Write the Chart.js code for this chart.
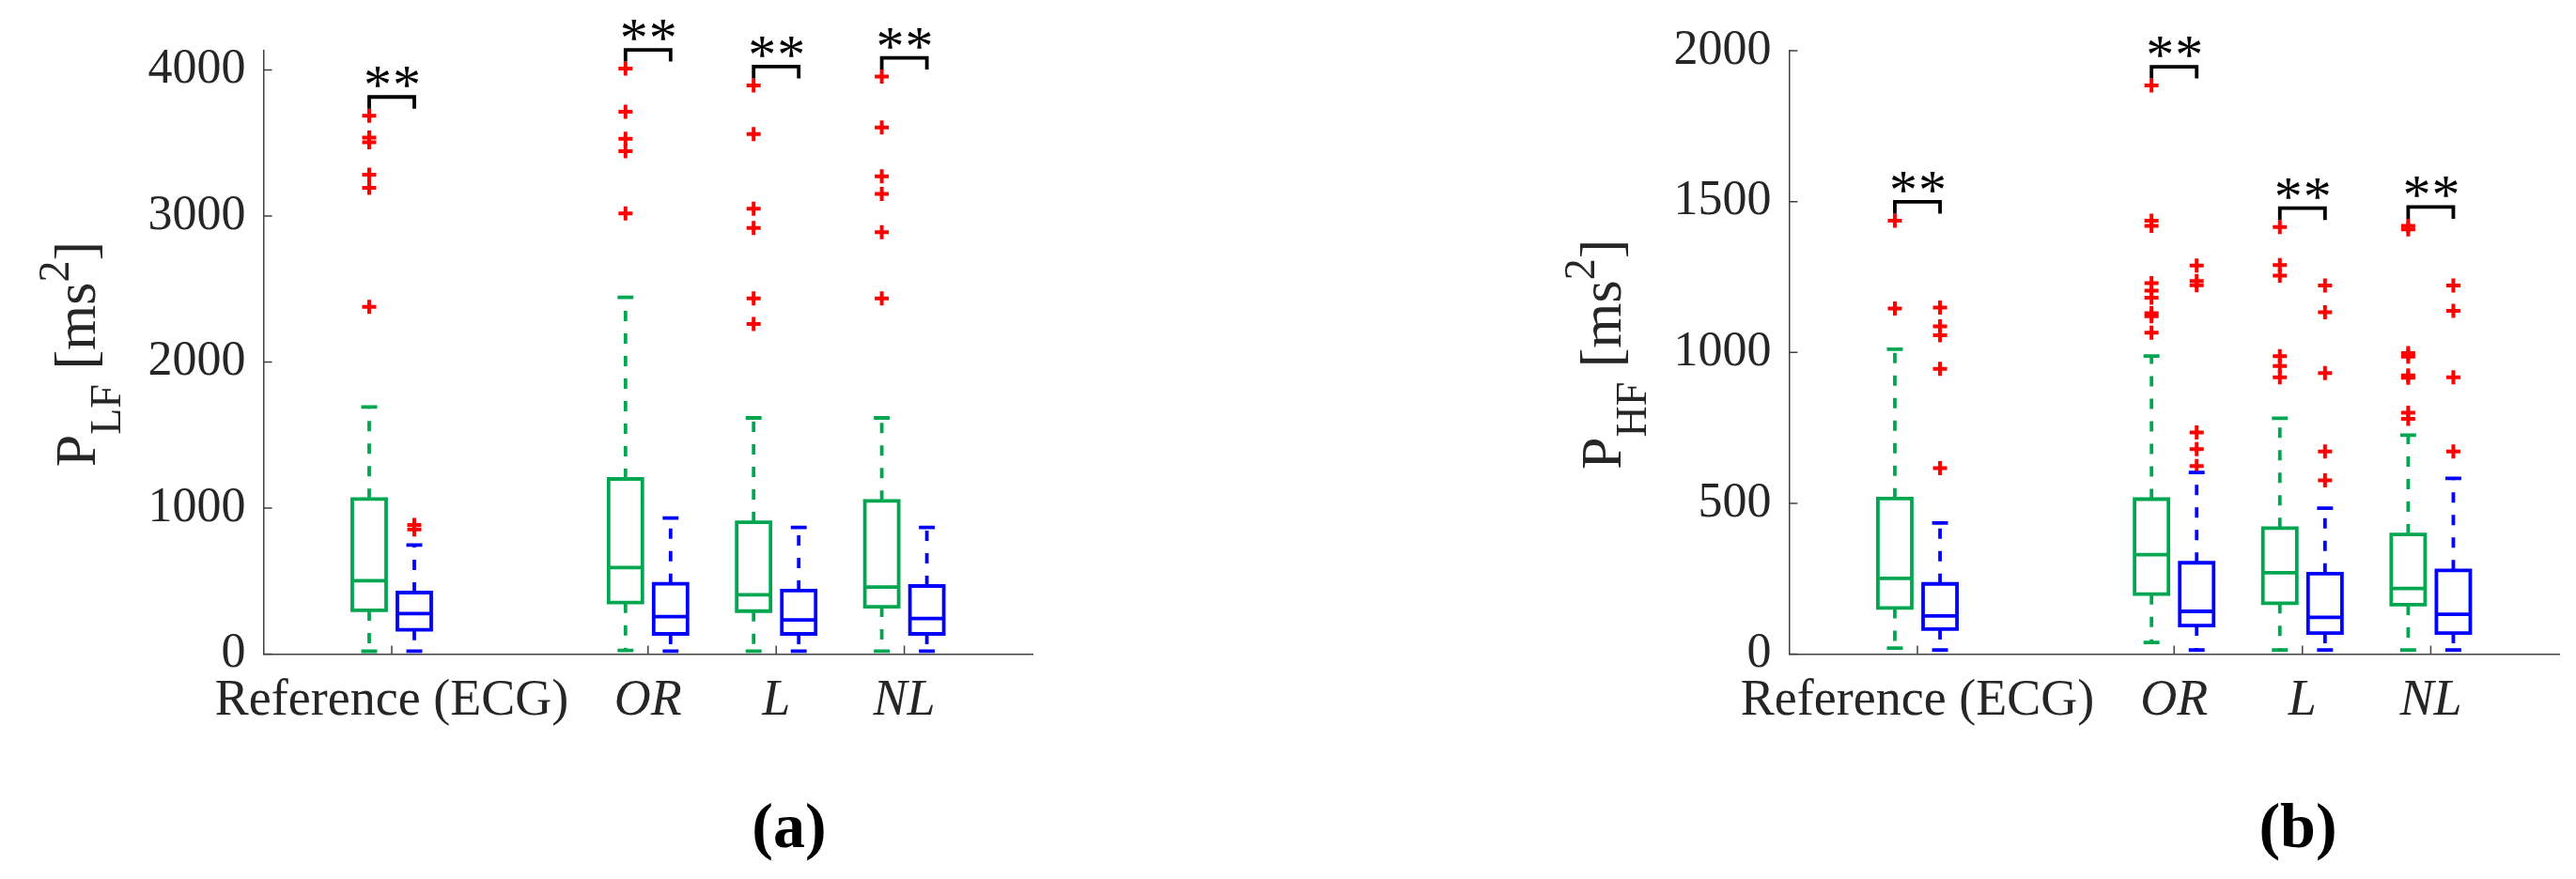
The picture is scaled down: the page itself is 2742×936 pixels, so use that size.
<!DOCTYPE html>
<html>
<head>
<meta charset="utf-8">
<script src="https://cdn.jsdelivr.net/npm/chart.js"></script>
<style>
html,body{margin:0;padding:0;background:#fff;width:2742px;height:936px;overflow:hidden}
.panel{position:absolute;top:0;width:1371px;height:936px}
</style>
</head>
<body>
<div class="panel" style="left:0"><canvas id="cLF" width="1371" height="936"></canvas></div>
<div class="panel" style="left:1371px"><canvas id="cHF" width="1371" height="936"></canvas></div>
<script>
// ---------------- DATA ----------------
const categories = ['Reference (ECG)', 'OR', 'L', 'NL'];
const lfTicks = [0, 1000, 2000, 3000, 4000];
const hfTicks = [0, 500, 1000, 1500, 2000];

// Panel (a): P_LF [ms^2] — green series
const lfGreenLow  = [20, 25, 21, 21];
const lfGreenQ1   = [300, 353, 295, 325];
const lfGreenMed  = [503, 593, 407, 460];
const lfGreenQ3   = [1063, 1200, 904, 1050];
const lfGreenHigh = [1693, 2443, 1618, 1618];
const lfGreenOut  = [[3687, 3537, 3505, 3284, 3194, 2379],
                     [4010, 3714, 3530, 3445, 3018],
                     [3895, 3562, 3050, 2919, 2437, 2261],
                     [3955, 3607, 3273, 3151, 2889, 2437]];
// Panel (a): blue series
const lfBlueLow  = [21, 21, 21, 21];
const lfBlueQ1   = [167, 139, 139, 139];
const lfBlueMed  = [278, 257, 235, 244];
const lfBlueQ3   = [422, 482, 435, 467];
const lfBlueHigh = [748, 932, 868, 868];
const lfBlueOut  = [[885, 855], [], [], []];

// Panel (b): P_HF [ms^2] — green series
const hfGreenLow  = [20, 39, 14, 14];
const hfGreenQ1   = [153, 199, 169, 164];
const hfGreenMed  = [251, 330, 270, 218];
const hfGreenQ3   = [516, 514, 418, 397];
const hfGreenHigh = [1011, 988, 782, 726];
const hfGreenOut  = [[1437, 1146],
                     [1885, 1437, 1420, 1230, 1205, 1182, 1130, 1120, 1066],
                     [1416, 1290, 1255, 988, 955, 918],
                     [1420, 1408, 998, 986, 924, 916, 800, 780]];
// Panel (b): blue series
const hfBlueLow  = [14, 14, 14, 14];
const hfBlueQ1   = [83, 95, 70, 70];
const hfBlueMed  = [127, 142, 122, 132];
const hfBlueQ3   = [233, 303, 267, 278];
const hfBlueHigh = [435, 602, 484, 583];
const hfBlueOut  = [[1149, 1087, 1057, 946, 617],
                    [1288, 1237, 1223, 735, 680, 624],
                    [1222, 1133, 932, 672, 576],
                    [1222, 1138, 918, 672]];

// ---------------- LAYOUT / STYLE ----------------
const GROUP_SLOT = [1, 3, 4, 5];   // slot of each category on the x axis (0..6)
const OFF = 0.176, BOX_HW = 0.132, CAP_HW = 0.062;
const GREEN = '#00A650', BLUE = '#0000FF', RED = '#FF0000';
const AXIS = '#404040', TXT = '#262626';
const FAMILY = '"Liberation Serif", "Times New Roman", serif';
const LW = 3.8;
Chart.defaults.font.family = FAMILY;

function seriesDatasets(name, s, color, off) {
  const boxes = [], meds = [], whisk = [], caps = [], outl = [];
  s.q1.forEach((q1, i) => {
    const x = GROUP_SLOT[i] + off;
    const q3 = s.q3[i], md = s.med[i], lo = s.lo[i], hi = s.hi[i];
    boxes.push({x: x - BOX_HW, y: q1}, {x: x + BOX_HW, y: q1}, {x: x + BOX_HW, y: q3},
               {x: x - BOX_HW, y: q3}, {x: x - BOX_HW, y: q1}, {x: x, y: null});
    meds.push({x: x - BOX_HW, y: md}, {x: x + BOX_HW, y: md}, {x: x, y: null});
    whisk.push({x: x, y: q3}, {x: x, y: hi}, {x: x, y: null},
               {x: x, y: q1}, {x: x, y: lo}, {x: x, y: null});
    caps.push({x: x - CAP_HW, y: hi}, {x: x + CAP_HW, y: hi}, {x: x, y: null},
              {x: x - CAP_HW, y: lo}, {x: x + CAP_HW, y: lo}, {x: x, y: null});
    s.out[i].forEach(v => outl.push({x: x, y: v}));
  });
  const line = (label, data, extra) => Object.assign({
    label, data, type: 'scatter', showLine: true, spanGaps: false,
    borderColor: color, backgroundColor: color, borderWidth: LW,
    pointRadius: 0, pointHoverRadius: 0, pointHitRadius: 0,
    borderJoinStyle: 'miter', borderCapStyle: 'butt'
  }, extra || {});
  return [
    line(name + ' whiskers', whisk, {borderDash: [11, 13]}),
    line(name + ' caps', caps),
    line(name + ' boxes', boxes, {borderCapStyle: 'square'}),
    line(name + ' medians', meds),
    {label: name + ' outliers', data: outl, type: 'scatter', showLine: false,
     pointStyle: 'cross', pointRadius: 7.5, pointHoverRadius: 7.5,
     borderColor: RED, backgroundColor: RED, borderWidth: 4}
  ];
}

const inwardTicks = {
  id: 'inwardTicks',
  afterDatasetsDraw(chart) {
    const {ctx, chartArea: a, scales: {x, y}} = chart;
    ctx.save();
    ctx.strokeStyle = AXIS; ctx.lineWidth = 1.5;
    ctx.beginPath();
    y.ticks.forEach(t => { const p = y.getPixelForValue(t.value); ctx.moveTo(a.left, p); ctx.lineTo(a.left + 9, p); });
    x.ticks.forEach(t => { const p = x.getPixelForValue(t.value); ctx.moveTo(p, a.bottom); ctx.lineTo(p, a.bottom - 9); });
    ctx.stroke();
    ctx.restore();
  }
};

const brackets = {
  id: 'brackets',
  afterDatasetsDraw(chart, args, o) {
    const {ctx, scales: {x, y}} = chart;
    ctx.save();
    ctx.strokeStyle = '#000'; ctx.fillStyle = '#000';
    ctx.lineWidth = LW; ctx.lineJoin = 'miter'; ctx.lineCap = 'butt';
    ctx.font = '60px ' + FAMILY; ctx.textAlign = 'center'; ctx.textBaseline = 'alphabetic';
    const m = ctx.measureText('*');
    GROUP_SLOT.forEach((slot, i) => {
      const top = Math.max(...o.green.out[i], o.green.hi[i], ...o.blue.out[i], o.blue.hi[i]);
      const yt = y.getPixelForValue(top) - 20;
      const x1 = x.getPixelForValue(slot - OFF), x2 = x.getPixelForValue(slot + OFF);
      ctx.beginPath();
      ctx.moveTo(x1, yt + 12.5); ctx.lineTo(x1, yt); ctx.lineTo(x2, yt); ctx.lineTo(x2, yt + 12.5);
      ctx.stroke();
      const xc = (x1 + x2) / 2;
      const base = yt - 10 - m.actualBoundingBoxDescent;
      ctx.fillText('*', xc - 15, base);
      ctx.fillText('*', xc + 16, base);
    });
    ctx.restore();
  }
};

const yTitle = {
  id: 'yTitle',
  afterDraw(chart, args, o) {
    const {ctx, chartArea: a} = chart;
    ctx.save();
    ctx.fillStyle = TXT; ctx.textBaseline = 'alphabetic'; ctx.textAlign = 'left';
    let total = 0;
    const w = o.parts.map(p => { ctx.font = p.s + 'px ' + FAMILY; const v = ctx.measureText(p.t).width; total += v; return v; });
    ctx.translate(a.left - 179.6, (a.top + a.bottom) / 2 + 2);
    ctx.rotate(-Math.PI / 2);
    let px = -total / 2;
    o.parts.forEach((p, i) => { ctx.font = p.s + 'px ' + FAMILY; ctx.fillText(p.t, px, p.dy); px += w[i]; });
    ctx.restore();
  }
};

const caption = {
  id: 'caption',
  afterDraw(chart, args, o) {
    const {ctx} = chart;
    ctx.save();
    ctx.fillStyle = '#000'; ctx.textAlign = 'center'; ctx.textBaseline = 'alphabetic';
    ctx.font = 'bold 68px ' + FAMILY;
    ctx.fillText(o.text, o.x, 902);
    ctx.restore();
  }
};

function makePanel(id, p) {
  const H = 936, W = 1371;
  new Chart(document.getElementById(id), {
    type: 'scatter',
    data: {datasets: [...seriesDatasets('Green', p.green, GREEN, -OFF), ...seriesDatasets('Blue', p.blue, BLUE, OFF)]},
    options: {
      responsive: false, animation: false, devicePixelRatio: 1,
      layout: {padding: {left: 0, top: p.top, right: W - p.right, bottom: 0}},
      plugins: {
        legend: {display: false}, tooltip: {enabled: false},
        brackets: {green: p.green, blue: p.blue},
        yTitle: {parts: p.title},
        caption: {text: p.caption, x: p.capX}
      },
      scales: {
        x: {
          type: 'linear', min: 0, max: 6,
          afterBuildTicks: s => { s.ticks = GROUP_SLOT.map(v => ({value: v})); },
          afterFit: s => { s.height = H - p.bottom; },
          grid: {display: true, drawOnChartArea: false, drawTicks: false},
          border: {display: true, color: AXIS, width: 1.5},
          ticks: {
            padding: 18, color: TXT, autoSkip: false, maxRotation: 0,
            font: c => ({family: FAMILY, size: 54, style: c.index === 0 ? 'normal' : 'italic'}),
            callback: v => categories[GROUP_SLOT.indexOf(v)]
          }
        },
        y: {
          type: 'linear', min: 0, max: p.yMax,
          afterBuildTicks: s => { s.ticks = p.yTicks.map(v => ({value: v})); },
          afterFit: s => { s.width = p.left; },
          grid: {display: true, drawOnChartArea: false, drawTicks: false},
          border: {display: true, color: AXIS, width: 1.5},
          ticks: {padding: 19, color: TXT, font: {family: FAMILY, size: 52}, callback: v => String(v)}
        }
      }
    },
    plugins: [inwardTicks, brackets, yTitle, caption]
  });
}

makePanel('cLF', {
  left: 280.6, right: 1099, top: 53.6, bottom: 696.6, yMax: 4135, yTicks: lfTicks,
  green: {lo: lfGreenLow, q1: lfGreenQ1, med: lfGreenMed, q3: lfGreenQ3, hi: lfGreenHigh, out: lfGreenOut},
  blue:  {lo: lfBlueLow,  q1: lfBlueQ1,  med: lfBlueMed,  q3: lfBlueQ3,  hi: lfBlueHigh,  out: lfBlueOut},
  title: [{t: 'P', s: 62, dy: 0}, {t: 'LF', s: 46, dy: 27}, {t: ' [ms', s: 62, dy: 0}, {t: '2', s: 46, dy: -28}, {t: ']', s: 62, dy: 0}],
  caption: '(a)', capX: 840
});
makePanel('cHF', {
  left: 533.4, right: 1353, top: 54.1, bottom: 696.6, yMax: 2000, yTicks: hfTicks,
  green: {lo: hfGreenLow, q1: hfGreenQ1, med: hfGreenMed, q3: hfGreenQ3, hi: hfGreenHigh, out: hfGreenOut},
  blue:  {lo: hfBlueLow,  q1: hfBlueQ1,  med: hfBlueMed,  q3: hfBlueQ3,  hi: hfBlueHigh,  out: hfBlueOut},
  title: [{t: 'P', s: 62, dy: 0}, {t: 'HF', s: 46, dy: 27}, {t: ' [ms', s: 62, dy: 0}, {t: '2', s: 46, dy: -28}, {t: ']', s: 62, dy: 0}],
  caption: '(b)', capX: 1075
});
</script>
</body>
</html>
